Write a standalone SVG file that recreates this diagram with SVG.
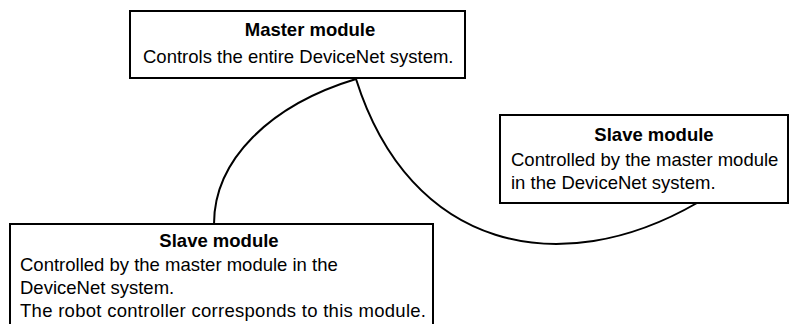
<svg xmlns="http://www.w3.org/2000/svg" width="790" height="324" viewBox="0 0 790 324">
<style>
.box{fill:#fff;stroke:#000;stroke-width:2}
.t{font-family:"Liberation Sans",Arial,sans-serif;font-size:18.5px;fill:#000}
.b{font-weight:bold;text-anchor:middle}
.c{fill:none;stroke:#000;stroke-width:2}
</style>
<rect width="790" height="324" fill="#fff"/>
<g id="connectors">
<path class="c" d="M356,79 C270,105 214,160 214,224"/>
<path class="c" d="M356,79 C410,250 560,282 697,203"/>
</g>
<g id="master">
<rect class="box" x="130" y="11" width="335" height="67"/>
<text class="t b" x="310" y="36">Master module</text>
<text class="t" x="143" y="63">Controls the entire DeviceNet system.</text>
</g>
<g id="slave1">
<rect class="box" x="500" y="115" width="288" height="88"/>
<text class="t b" x="654" y="141">Slave module</text>
<text class="t" x="511" y="166">Controlled by the master module</text>
<text class="t" x="511" y="189">in the DeviceNet system.</text>
</g>
<g id="slave2">
<rect class="box" x="10" y="224" width="423" height="110"/>
<text class="t b" x="219" y="247">Slave module</text>
<text class="t" x="20" y="271">Controlled by the master module in the</text>
<text class="t" x="20" y="294">DeviceNet system.</text>
<text class="t" x="20" y="317" textLength="406" lengthAdjust="spacing">The robot controller corresponds to this module.</text>
</g>
</svg>
